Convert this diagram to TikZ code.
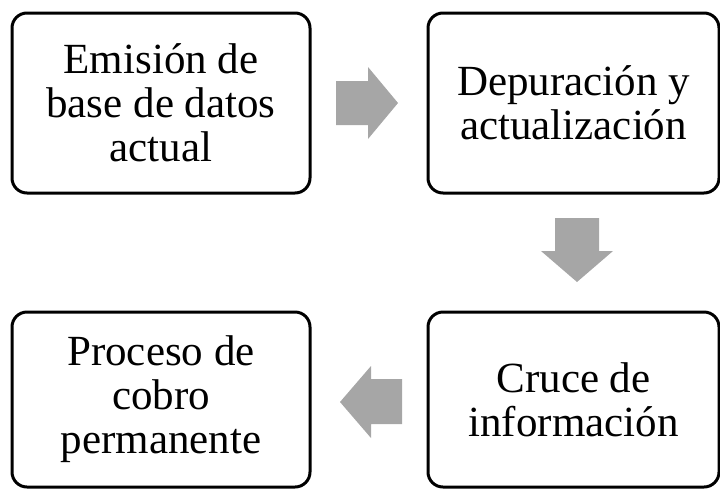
\documentclass[tikz,border=0pt]{standalone}
\usepackage{fontspec}
\setmainfont{Liberation Serif}
\begin{document}
\begin{tikzpicture}[x=1pt,y=-1pt,
  stepbox/.style={draw=black, line width=3pt, rounded corners=15pt, fill=white,
    align=center, inner sep=0pt,
    font=\fontsize{43}{44}\selectfont},
  blockarrow/.style={fill=arrowgray, draw=none}]
\definecolor{arrowgray}{HTML}{A6A6A6}
\useasboundingbox (0,0) rectangle (720,488);
\node[stepbox, minimum width=298pt, minimum height=180pt] (b1) at (161,103) {Emisión de\\base de datos\\actual};
\node[stepbox, minimum width=291pt, minimum height=180pt] (b2) at (573.5,103) {Depuración y\\actualización};
\node[stepbox, minimum width=291pt, minimum height=175pt] (b4) at (573.5,399.5) {Cruce de\\información};
\node[stepbox, minimum width=298pt, minimum height=175pt] (b3) at (161,399.5) {Proceso de\\cobro\\permanente};
% right arrow
\fill[blockarrow] (336,81) -- (368,81) -- (368,67) -- (398,103) -- (368,139) -- (368,125) -- (336,125) -- cycle;
% down arrow
\fill[blockarrow] (555,218) -- (599,218) -- (599,251) -- (613,251) -- (577,282) -- (541,251) -- (555,251) -- cycle;
% left arrow
\fill[blockarrow] (402,379) -- (371,379) -- (371,366) -- (340,402) -- (371,438) -- (371,424) -- (402,424) -- cycle;
\end{tikzpicture}
\end{document}
